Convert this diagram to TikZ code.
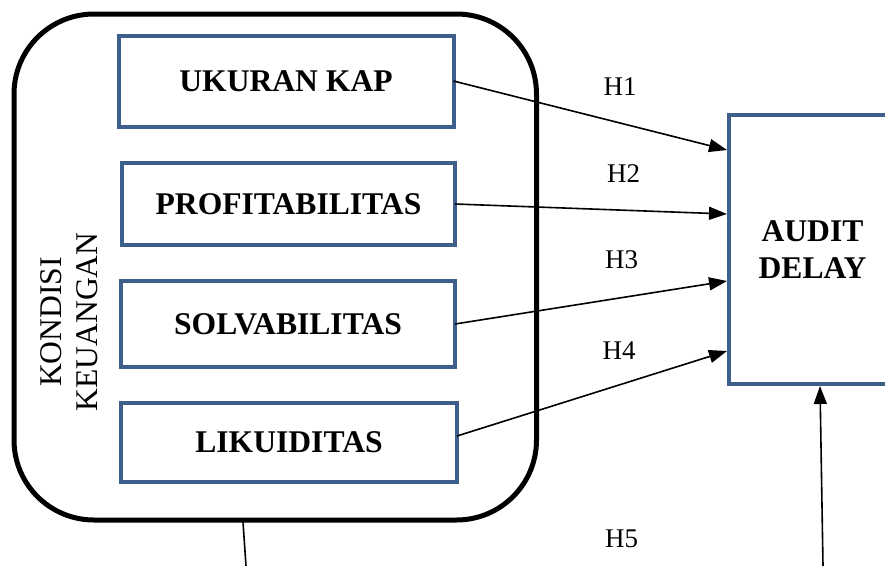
\documentclass[tikz,border=0pt]{standalone}
\usepackage{fontspec}
\setmainfont{Liberation Serif}
\usetikzlibrary{arrows.meta}
\definecolor{boxblue}{RGB}{60,95,140}
\tikzset{
  varbox/.style={draw=boxblue, line width=4pt, inner sep=0pt, outer sep=0pt,
    font=\fontsize{31.6}{36.5}\selectfont\bfseries, align=center},
  outerbox/.style={draw=black, line width=5pt, rounded corners=80pt, inner sep=0pt, outer sep=0pt},
  hlabel/.style={font=\fontsize{27}{30}\selectfont, inner sep=0pt},
  conn/.style={line width=1.6pt, -{Triangle[length=18pt,width=13pt]}},
  plainline/.style={line width=1.6pt}
}
\begin{document}
\begin{tikzpicture}[x=1pt,y=-1pt]
\useasboundingbox (0,0) rectangle (885,565);
\clip (0,0) rectangle (885,565);
\node[outerbox, minimum width=522.5pt, minimum height=506pt] (kondisi) at (275.25,267) {};
\node[rotate=90, font=\fontsize{31.6}{36.5}\selectfont, align=center, inner sep=0pt] (klabel) at (69,322) {KONDISI\\KEUANGAN};
\node[varbox, minimum width=335pt, minimum height=91pt] (ukuran) at (286,81) {UKURAN KAP};
\node[varbox, minimum width=333pt, minimum height=81.5pt] (profit) at (288.5,204) {PROFITABILITAS};
\node[varbox, minimum width=334pt, minimum height=86pt] (solv) at (288,324) {SOLVABILITAS};
\node[varbox, minimum width=336pt, minimum height=79pt] (likuid) at (289,442.5) {LIKUIDITAS};
\node[varbox, minimum width=167pt, minimum height=269pt] (audit) at (812.5,249.5) {AUDIT\\DELAY};
\coordinate (a1) at (727,150);
\coordinate (a2) at (727,214);
\coordinate (a3) at (727,281);
\coordinate (a4) at (727,351);
\coordinate (a5) at (820,386);
\coordinate (b5) at (823,566);
\coordinate (k1) at (243,522);
\coordinate (k2) at (246,566);
\coordinate (l4) at (457,436);
\draw[conn] (ukuran.east) -- (a1);
\draw[conn] (profit.east) -- (a2);
\draw[conn] (solv.east) -- (a3);
\draw[conn] (l4) -- (a4);
\draw[conn] (b5) -- (a5);
\draw[plainline] (k1) -- (k2);
\node[hlabel] (h1) at (620,87) {H1};
\node[hlabel] (h2) at (623.5,173.5) {H2};
\node[hlabel] (h3) at (621.5,260) {H3};
\node[hlabel] (h4) at (619,351) {H4};
\node[hlabel] (h5) at (621.5,539) {H5};
\end{tikzpicture}
\end{document}
